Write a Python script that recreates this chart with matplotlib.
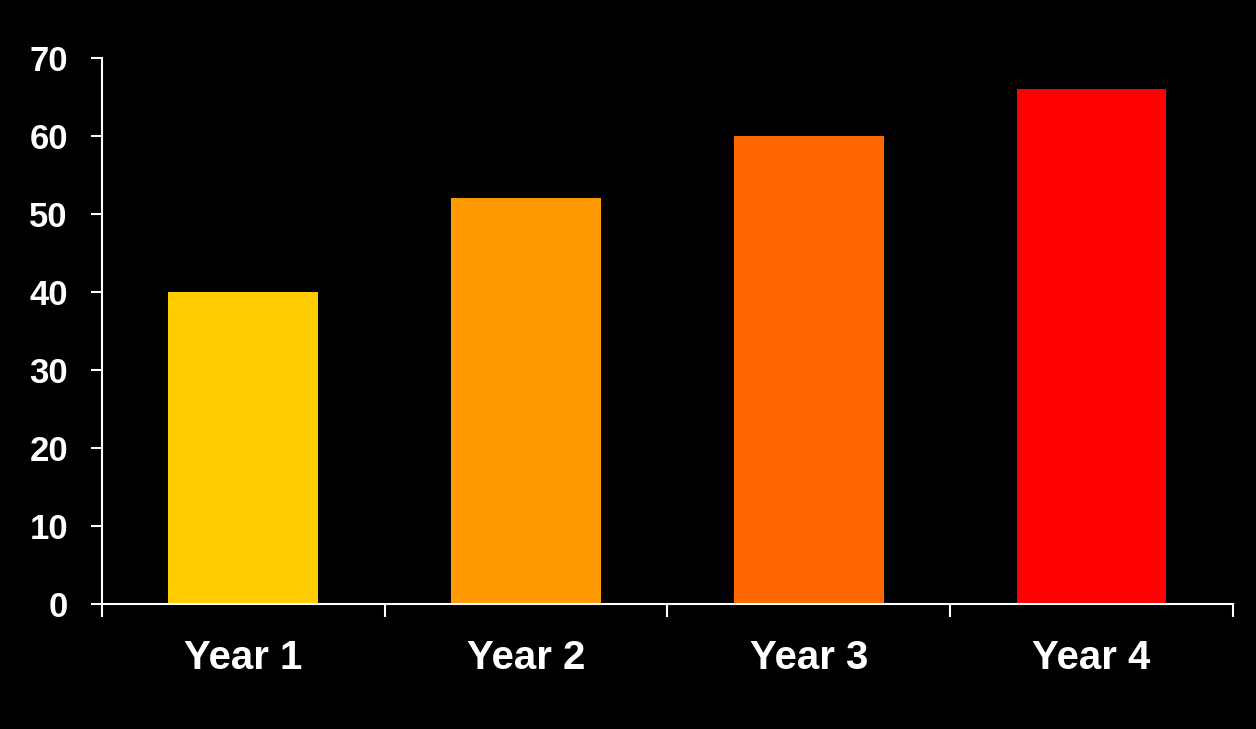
import numpy as np
import matplotlib
matplotlib.use("Agg")
import matplotlib.pyplot as plt

# data
years = ["Year 1", "Year 2", "Year 3", "Year 4"]
values = [40, 52, 60, 66]
colors = ["#FFCC00", "#FF9900", "#FF6600", "#FF0000"]
yticks = [0, 10, 20, 30, 40, 50, 60, 70]

plt.rcParams['font.family'] = ['Liberation Sans', 'DejaVu Sans']
plt.rcParams['font.weight'] = 'bold'

fig = plt.figure(figsize=(12.56, 7.29), dpi=100, facecolor="black")
ax = fig.add_axes([0.0812, 0.1715, 0.9003, 0.749], facecolor="black")

x = np.arange(len(years))
ax.bar(x, values, width=0.53, color=colors, zorder=2)

ax.set_xlim(-0.5, len(years) - 0.5)
ax.set_ylim(0, 70)
ax.set_yticks(yticks)
ax.set_yticklabels([str(t) for t in yticks], fontsize=25, fontweight='bold', color='white')

# category labels centered, boundary ticks
ax.set_xticks(x)
ax.set_xticklabels(years, fontsize=29, fontweight='bold', color='white')
ax.tick_params(axis='x', which='major', length=0, pad=25)
ax.set_xticks(np.arange(len(years) + 1) - 0.5, minor=True)
ax.tick_params(axis='x', which='minor', length=9.4, width=1.5, color='white', direction='out')
ax.tick_params(axis='y', length=8, width=1.5, color='white', pad=16.5)

for s in ['top', 'right']:
    ax.spines[s].set_visible(False)
for s in ['left', 'bottom']:
    ax.spines[s].set_color('white')
    ax.spines[s].set_linewidth(1.5)

fig.savefig("out.png", dpi=100, facecolor="black")
